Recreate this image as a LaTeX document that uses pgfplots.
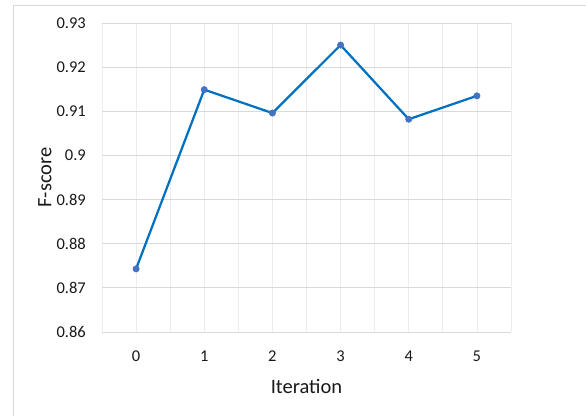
\documentclass[border=0pt]{standalone}
\usepackage{pgfplots}
\pgfplotsset{compat=1.18}
\usepackage{fontspec}
\setmainfont{Carlito}
\definecolor{framegray}{HTML}{D9D9D9}
\definecolor{gridlight}{HTML}{EDEDED}
\definecolor{linecol}{HTML}{0070C0}
\definecolor{markcol}{HTML}{4472C4}
\begin{document}
\begin{tikzpicture}[x=1pt,y=1pt]
\useasboundingbox (0,0) rectangle (586,415);
\draw[framegray, line width=1pt] (13.5,-30) rectangle (640,409.5);
\begin{axis}[
    at={(102pt,83pt)}, anchor=south west,
    scale only axis, width=409pt, height=309pt,
    xmin=-0.5, xmax=5.5, ymin=0.86, ymax=0.93,
    xtick={0,1,2,3,4,5},
    xticklabels={0,1,2,3,4,5},
    minor xtick={-0.5,0.5,1.5,2.5,3.5,4.5,5.5},
    ytick={0.86,0.87,0.88,0.89,0.90,0.91,0.92,0.93},
    yticklabels={0.86,0.87,0.88,0.89,0.9,0.91,0.92,0.93},
    axis line style={draw=none},
    tick style={draw=none},
    xmajorgrids, xminorgrids, ymajorgrids,
    major x grid style={gridlight, line width=0.75pt},
    minor x grid style={gridlight, line width=0.75pt},
    major y grid style={framegray, line width=0.9pt},
    ticklabel style={font=\fontsize{16.5}{19}\selectfont, text=black!90},
    yticklabel style={anchor=east, inner sep=0pt, xshift=-16pt},
    xticklabel style={anchor=north, inner sep=0pt, yshift=-19pt},
    label style={font=\fontsize{20.5}{24}\selectfont, text=black!90},
    xlabel={Iteration},
    xlabel style={at={(rel axis cs:0.5,0)}, anchor=center, yshift=-54pt},
    ylabel={F-score},
    ylabel style={at={(rel axis cs:-0.1394,0.5)}, anchor=center},
]
\addplot[linecol, line width=2.25pt, mark=*, mark size=3.2pt,
    mark options={solid, fill=markcol, draw=markcol, line width=0.5pt}]
    coordinates {(0,0.8743) (1,0.9149) (2,0.9096) (3,0.9250) (4,0.9082) (5,0.9135)};
\end{axis}
\end{tikzpicture}
\end{document}
